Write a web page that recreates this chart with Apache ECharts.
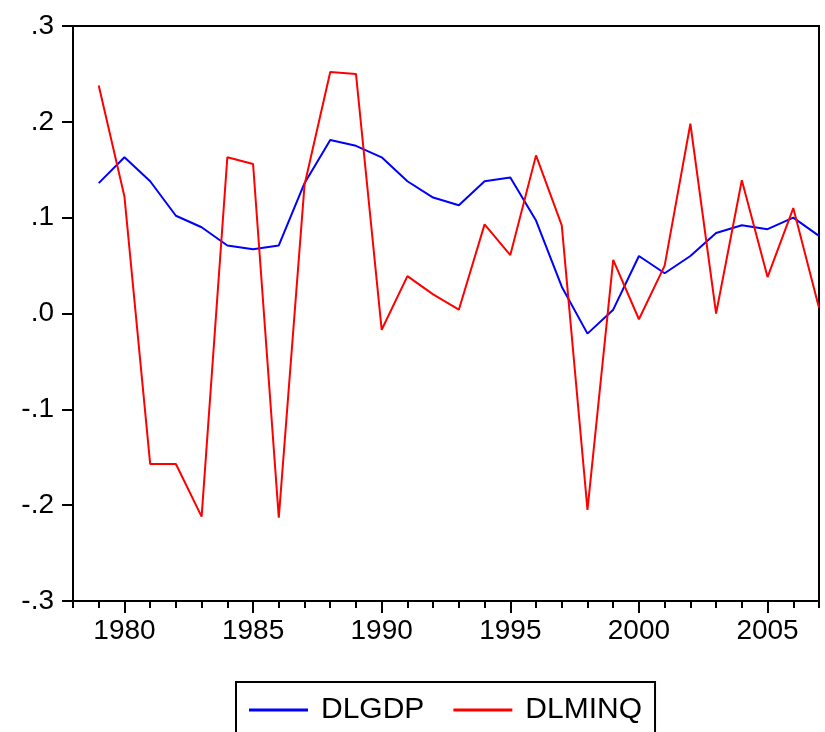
<!DOCTYPE html>
<html>
<head>
<meta charset="utf-8">
<script src="https://cdn.jsdelivr.net/npm/echarts@6/dist/echarts.min.js"></script>
<style>html,body{margin:0;padding:0;background:#fff;}#c{width:825px;height:732px;}</style>
</head>
<body>
<div id="c"></div>
<script>
const years = [1979,1980,1981,1982,1983,1984,1985,1986,1987,1988,1989,1990,1991,1992,1993,1994,1995,1996,1997,1998,1999,2000,2001,2002,2003,2004,2005,2006,2007];
const dlgdp = [0.136,0.163,0.138,0.102,0.090,0.071,0.067,0.071,0.136,0.181,0.175,0.163,0.138,0.121,0.113,0.138,0.142,0.097,0.028,-0.021,0.004,0.060,0.042,0.060,0.084,0.092,0.088,0.100,0.081];
const dlminq = [0.238,0.122,-0.157,-0.157,-0.212,0.163,0.156,-0.213,0.134,0.252,0.250,-0.017,0.039,0.020,0.004,0.093,0.061,0.165,0.092,-0.205,0.056,-0.006,0.050,0.198,0.000,0.139,0.038,0.110,0.006];
const yTicks = [-0.3,-0.2,-0.1,0,0.1,0.2,0.3];
const majorYears = [1980,1985,1990,1995,2000,2005];
const allYears = [1978].concat(years);

function yLabel(v){
  const r = Math.round(v*10)/10;
  if (r === 0) return '.0';
  const s = Math.abs(r).toFixed(1).replace(/^0/, '');
  return (r < 0 ? '-' : '') + s;
}

const chart = echarts.init(document.getElementById('c'));
const font = 'Liberation Sans, Arial, sans-serif';
chart.setOption({
  animation: false,
  backgroundColor: '#fff',
  grid: {left: 73, top: 26, right: 6, bottom: 131, show: true, borderColor: '#000', borderWidth: 2, backgroundColor: 'transparent'},
  xAxis: [
    {type: 'value', min: 1978, max: 2007, position: 'bottom',
     axisLine: {show: true, onZero: false, lineStyle: {color: '#000', width: 2}},
     axisTick: {show: true, inside: false, length: 7, customValues: allYears, lineStyle: {color: '#000', width: 2}},
     axisLabel: {show: false},
     splitLine: {show: false}},
    {type: 'value', min: 1978, max: 2007, position: 'bottom',
     axisLine: {show: false, onZero: false},
     axisTick: {show: true, inside: false, length: 12, customValues: majorYears, lineStyle: {color: '#000', width: 2}},
     axisLabel: {show: true, customValues: majorYears, margin: 16, color: '#000', fontSize: 28, fontFamily: font, formatter: v => String(v)},
     splitLine: {show: false}}
  ],
  yAxis: {type: 'value', min: -0.3, max: 0.3, interval: 0.1,
     axisLine: {show: true, onZero: false, lineStyle: {color: '#000', width: 2}},
     axisTick: {show: true, inside: false, length: 11, lineStyle: {color: '#000', width: 2}},
     axisLabel: {show: true, margin: 19, color: '#000', fontSize: 28, fontFamily: font, formatter: yLabel},
     splitLine: {show: false}},
  legend: {
    left: 236, top: 682, orient: 'horizontal',
    borderColor: '#000', borderWidth: 2, padding: [13, 13, 13, 13],
    itemWidth: 59, itemHeight: 3, itemGap: 29, icon: 'rect',
    textStyle: {color: '#000', fontSize: 30, fontFamily: font, padding: [0,0,0,8]},
    data: ['DLGDP', 'DLMINQ']
  },
  series: [
    {name: 'DLGDP', type: 'line', xAxisIndex: 0, showSymbol: false, symbol: 'none',
     itemStyle: {color: '#0000FF'}, lineStyle: {color: '#0000FF', width: 2},
     data: years.map((y, i) => [y, dlgdp[i]])},
    {name: 'DLMINQ', type: 'line', xAxisIndex: 0, showSymbol: false, symbol: 'none',
     itemStyle: {color: '#FF0000'}, lineStyle: {color: '#FF0000', width: 2},
     data: years.map((y, i) => [y, dlminq[i]])}
  ]
});
</script>
</body>
</html>
